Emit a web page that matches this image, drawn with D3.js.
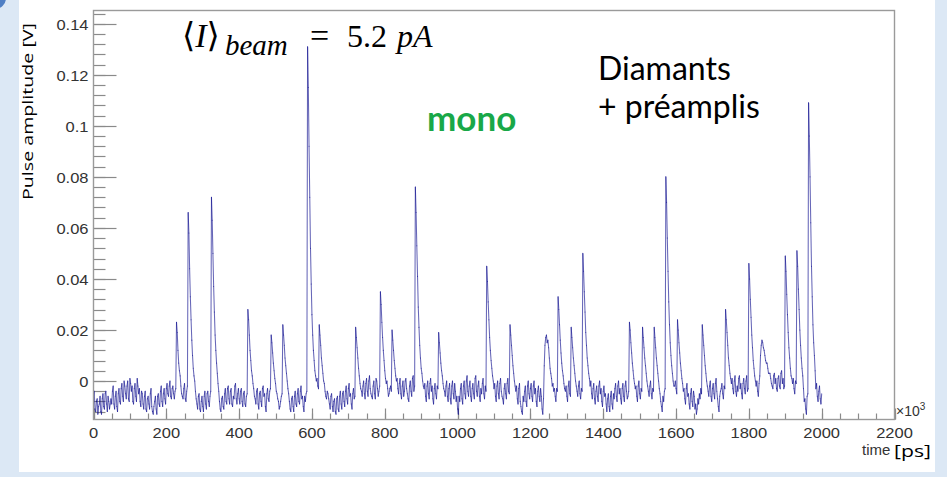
<!DOCTYPE html>
<html><head><meta charset="utf-8">
<script src="https://cdn.jsdelivr.net/npm/d3@7"></script>
<style>body{margin:0;background:#dce8f5;} svg{display:block}</style>
</head><body>
<svg id="c" width="947" height="477"></svg>
<script>
// Pulse amplitude trace in mV. Main samples every 4 (x10^3 ps) from 0;
// "mid" samples sit halfway between consecutive main samples.
const timeStart = 0;
const timeStep = 4;
const traceSeg0 = [
 -6,-11,-8,-13,-9,-12,-7,-10,-5,-9,
 -6,-11,-7,-4,-9,-6,-10,-5,-8,-3,
 -6,0,-5,-2,-7,1,-4,-8,-3,-6,
 1,-5,-8,-4,-9,-6,-11,-7,-9,-5,
 -10,-13,-8,-11,-6,-9,-4,-8,-5,-7,
 -3,-5,-2,-6,-3,-5,-4,23,12,4,
 -2,-6,-3,-7,-4,66,44,24,10,2,
 -4,-9,-6,-11,-8,-10,-6,-9,-5,-8,
 -6,72,50,27,12,3,-4,-11,-7,-10,
 -5,-8,-3,-7,-4,-9,-6,-2,-7,-5];
const traceSeg1 = [
 -7,-4,-8,-5,-9,-6,28,18,8,2,
 -3,-7,-4,-9,-5,-8,-3,-6,-10,-5,
 -7,-4,18,11,4,-1,-5,-8,-10,-6,
 22,14,6,0,-5,-11,-7,-10,-6,-9,
 -5,-8,-4,-7,-10,-6,-5,131,92,52,
 26,12,4,0,-2,22,14,6,0,-4,
 -7,-5,-9,-6,-10,-8,-12,-7,-11,-6,
 -9,-5,-8,-4,-7,-3,-6,-9,-5,-7,
 21,13,5,-1,-4,-2,-5,-1,-4,0,
 -3,-6,-2,-5,1,-3,-4,35,23,12];
const traceSeg2 = [
 4,-1,-3,-5,-2,20,12,5,0,-3,
 -1,-5,-2,-6,0,-3,-7,-2,-4,1,
 -4,76,53,29,14,5,0,-3,-6,-2,
 -5,-1,-4,-7,-3,-5,-2,19,11,4,
 -1,-4,-2,-6,-3,-7,-2,-5,-1,-8,
 -11,-6,-3,-7,-2,-5,0,-4,-2,-6,
 -3,-5,1,-4,-2,-6,-3,-1,-5,-2,
 45,31,17,8,2,-3,-6,-2,-5,-1,
 -4,-7,-3,-5,-1,-4,22,14,6,0,
 -4,-7,-3,-8,-12,-6,-4,-8,-2,-5];
const traceSeg3 = [
 -3,-6,-2,-5,-8,-4,-6,-3,-11,-7,
 14,18,16,9,3,-2,-4,-6,-3,33,
 22,11,4,-1,-4,-6,-2,-5,21,13,
 6,0,-4,-2,-5,-3,50,35,19,9,
 3,-2,-5,-3,-7,-4,-6,-2,-5,-8,
 -4,-6,-9,-7,-10,-6,-9,-5,-3,-6,
 -2,-5,-7,-3,-6,-2,-4,-6,23,15,
 7,1,-3,-6,-2,-5,-3,21,13,6,
 0,-4,-2,-5,-3,21,13,6,0,-5,
 -10,-6,-4,80,56,31,15,6,0,-2];
const traceSeg4 = [
 -3,24,15,7,1,-4,-7,-3,-6,-9,
 -5,-8,-4,-11,-13,-7,-5,-3,22,14,
 6,0,-4,-2,-6,-3,-5,-1,-4,-10,
 -6,-3,-5,-2,28,19,9,3,-1,-3,
 0,-4,-2,1,-3,-5,-1,-3,0,-4,
 46,32,18,8,2,-2,-4,-1,10,16,
 13,10,7,5,3,1,-2,2,-1,-3,
 1,-2,3,-1,-3,49,34,19,9,2,
 -1,-3,0,51,36,20,9,2,-8,-11,
 -6,109,80,45,22,10,-3,-6,-4,-7,
 -5];
const midSeg0 = [
 -4,-12,-7,-10,-6,-13,-5,-11,-4,-12,
 -8,-9,-9,-2,-11,-4,-12,-3,-9,-1,
 -8,-2,-7,0,-8,-1,-2,-9,-1,-8,
 -2,-3,-10,-5,-11,-4,-12,-6,-11,-3,
 -12,-10,-6,-13,-5,-10,-2,-10,-3,-9,
 -1,-6,0,-7,-2,-7,-3,19,7,2,
 -5,-7,-1,-8,-2,58,33,16,5,0,
 -7,-11,-5,-12,-6,-12,-4,-11,-4,-10,
 -4,63,37,18,7,-1,-8,-12,-6,-11,
 -3,-9,-2,-9,-3,-10,-7,-1,-9,-3];
const midSeg1 = [
 -9,-3,-10,-4,-10,-5,24,12,4,-1,
 -6,-9,-3,-11,-4,-10,-2,-5,-12,-3,
 -8,-3,15,7,1,-4,-7,-11,-8,-5,
 18,9,3,-3,-8,-12,-6,-12,-4,-10,
 -3,-9,-2,-6,-12,-8,-4,115,72,38,
 18,8,2,1,-3,18,9,3,-1,-6,
 -4,-7,-11,-5,-12,-7,-13,-6,-12,-4,
 -11,-4,-10,-2,-9,-1,-5,-11,-3,-6,
 17,9,2,-3,-6,0,-7,1,-6,2,
 -5,-7,0,-7,0,-6,-2,30,17,8];
const midSeg2 = [
 1,0,-6,-3,-4,16,8,2,1,-5,
 1,-7,0,-4,1,-5,-8,0,-6,2,
 -2,66,41,21,9,3,-2,-1,-8,0,
 -7,1,-2,-9,-1,-7,-3,15,7,2,
 -3,-6,0,-8,-1,-9,0,-7,-4,-6,
 -13,-8,-1,-9,0,-7,2,-6,0,-8,
 -1,-7,2,-6,0,-8,-5,1,-7,-4,
 39,24,12,5,0,-1,-8,0,-7,1,
 -6,-9,-1,-7,1,-5,18,10,3,-2,
 -2,-9,-1,-10,-13,-8,-2,-10,0,-7];
const midSeg3 = [
 -1,-8,0,-3,-10,-2,-8,-6,-13,6,
 17,15,13,5,1,-1,-3,-8,-4,28,
 16,7,2,-3,-2,-8,0,-6,17,9,
 3,-2,-6,0,-7,-4,43,27,14,6,
 1,0,-7,-1,-9,-2,-8,0,-3,-10,
 -2,-5,-12,-5,-12,-4,-11,-7,-1,-8,
 0,-3,-9,-1,-8,0,-7,-4,20,11,
 4,-1,-2,-8,0,-7,-4,17,9,3,
 -2,-6,0,-7,-4,17,9,3,-3,-8,
 -12,-8,-3,70,43,22,10,3,-2,0];
const midSeg4 = [
 -5,20,11,4,-1,-3,-9,-1,-5,-11,
 -3,-10,-6,-9,-11,-9,-7,-5,18,10,
 3,-2,-6,0,-8,-1,-7,1,-7,-12,
 -4,-1,-7,-3,24,14,6,1,1,-5,
 2,-6,-4,2,-1,-7,1,-5,2,-3,
 40,25,13,5,0,0,-6,2,14,15,
 12,8,7,3,3,-1,-3,3,1,-4,
 2,-3,4,1,-2,43,26,13,5,1,
 1,-5,-1,45,28,14,5,-3,-7,-13,
 -5,96,62,33,15,4,-1,-8,-2,-9];

const xTickValues = [0,200,400,600,800,1000,1200,1400,1600,1800,2000,2200];
const xTickLabels = ["0","200","400","600","800","1000","1200","1400","1600","1800","2000","2200"];
const yTickValues = [0,0.02,0.04,0.06,0.08,0.1,0.12,0.14];
const yTickLabels = ["0","0.02","0.04","0.06","0.08","0.1","0.12","0.14"];
const xDomain = [0,2200];
const yDomain = [-0.0151,0.1452];

const mainVals = [].concat(traceSeg0,traceSeg1,traceSeg2,traceSeg3,traceSeg4);
const midVals = [].concat(midSeg0,midSeg1,midSeg2,midSeg3,midSeg4);
const trace = [];
mainVals.forEach((mv,i)=>{
  trace.push({t: timeStart + i*timeStep, v: mv/1000});
  if (i < midVals.length) trace.push({t: timeStart + i*timeStep + timeStep/2, v: midVals[i]/1000});
});

const svg = d3.select("#c");
svg.append("rect").attr("width",947).attr("height",477).attr("fill","#dce8f5");
svg.append("rect").attr("x",19).attr("y",0).attr("width",916).attr("height",472).attr("fill","#ffffff");
svg.append("circle").attr("cx",-5).attr("cy",-2).attr("r",11).attr("fill","#4f7fc4");

const x = d3.scaleLinear().domain(xDomain).range([93.5,894.5]);
const y = d3.scaleLinear().domain(yDomain).range([419.5,10.5]);

const axisCol = "#8a8a8a";
const g = svg.append("g");
const yMinor = d3.range(-0.012,0.1441,0.004);
g.selectAll(".ymin").data(yMinor).join("line")
  .attr("x1",x(0)).attr("x2",x(0)+12)
  .attr("y1",d=>Math.round(y(d))+0.5).attr("y2",d=>Math.round(y(d))+0.5)
  .attr("stroke",axisCol).attr("stroke-width",1.2);
g.selectAll(".ymaj").data(yTickValues).join("line")
  .attr("x1",x(0)).attr("x2",x(0)+23)
  .attr("y1",d=>Math.round(y(d))+0.5).attr("y2",d=>Math.round(y(d))+0.5)
  .attr("stroke",axisCol).attr("stroke-width",1.2);
const xMinor = d3.range(0,2201,50);
g.selectAll(".xmin").data(xMinor).join("line")
  .attr("x1",d=>Math.round(x(d))+0.5).attr("x2",d=>Math.round(x(d))+0.5)
  .attr("y1",y.range()[0]).attr("y2",y.range()[0]-6)
  .attr("stroke",axisCol).attr("stroke-width",1.2);
g.selectAll(".xmaj").data(xTickValues).join("line")
  .attr("x1",d=>Math.round(x(d))+0.5).attr("x2",d=>Math.round(x(d))+0.5)
  .attr("y1",y.range()[0]).attr("y2",y.range()[0]-11)
  .attr("stroke",axisCol).attr("stroke-width",1.2);

// trace: drawn segment-wise with partial opacity so overlapping noise darkens like the original
const line = d3.line().x(d=>x(d.t)).y(d=>y(d.v));
const pairs = d3.pairs(trace);
svg.append("g").selectAll("path").data(pairs).join("path")
  .attr("d",d=>line(d))
  .attr("fill","none").attr("stroke","#0a0a8c").attr("stroke-opacity",0.62)
  .attr("stroke-width",1.05).attr("stroke-linecap","round");

// frame
svg.append("rect").attr("x",93.5).attr("y",10.5).attr("width",801).attr("height",409)
  .attr("fill","none").attr("stroke","#9a9a9a").attr("stroke-width",1.4);

// tick labels
const lab = svg.append("g").attr("font-family","'Liberation Sans', Arial, sans-serif")
  .attr("font-size",15).attr("fill","#333");
yTickValues.forEach((v,i)=>{
  lab.append("text").attr("transform",`translate(88.5,${y(v)+6}) scale(1.1,1)`)
    .attr("text-anchor","end").text(yTickLabels[i]);
});
xTickValues.forEach((v,i)=>{
  lab.append("text").attr("transform",`translate(${x(v)},438) scale(1.1,1)`)
    .attr("text-anchor","middle").text(xTickLabels[i]);
});
const e3 = lab.append("text").attr("x",896).attr("y",416).attr("font-size",14);
e3.append("tspan").text("×10");
e3.append("tspan").attr("dy",-6).attr("font-size",10).text("3");
lab.append("text").attr("x",862).attr("y",455).text("time");
svg.append("text").attr("x",894).attr("y",457).attr("font-family","'Open Sans', sans-serif")
  .attr("font-size",17).attr("textLength",37).attr("lengthAdjust","spacingAndGlyphs")
  .attr("fill","#000").text("[ps]");

// y title
svg.append("text").attr("transform","translate(33,111.5) rotate(-90)")
  .attr("text-anchor","middle").attr("font-family","'Open Sans', sans-serif").attr("font-size",14)
  .attr("textLength",177).attr("lengthAdjust","spacingAndGlyphs").attr("fill","#000")
  .text("Pulse amplitude [V]");

// annotations
const serif = "'Liberation Serif', 'DejaVu Serif', serif";
const m1 = svg.append("text").attr("x",182).attr("y",47).attr("font-family",serif).attr("font-size",34);
m1.append("tspan").text("⟨");
m1.append("tspan").attr("font-style","italic").text("I");
m1.append("tspan").text("⟩");
svg.append("text").attr("x",225).attr("y",55).attr("font-family",serif).attr("font-size",29)
  .attr("font-style","italic").text("beam");
svg.append("text").attr("x",310).attr("y",47).attr("font-family",serif).attr("font-size",34).text("=");
svg.append("text").attr("x",347).attr("y",47).attr("font-family",serif).attr("font-size",32).text("5.2");
svg.append("text").attr("x",397).attr("y",47).attr("font-family",serif).attr("font-size",32)
  .attr("font-style","italic").text("pA");

svg.append("text").attr("x",427).attr("y",131).attr("font-family","Lato, sans-serif")
  .attr("font-weight","bold").attr("font-size",35).attr("fill","#19a848").text("mono");
svg.append("text").attr("x",598).attr("y",80).attr("font-family","Lato, sans-serif")
  .attr("font-size",32).attr("fill","#000").text("Diamants");
svg.append("text").attr("x",598).attr("y",118).attr("font-family","Lato, sans-serif")
  .attr("font-size",32).attr("fill","#000").text("+ préamplis");
</script>
</body></html>
